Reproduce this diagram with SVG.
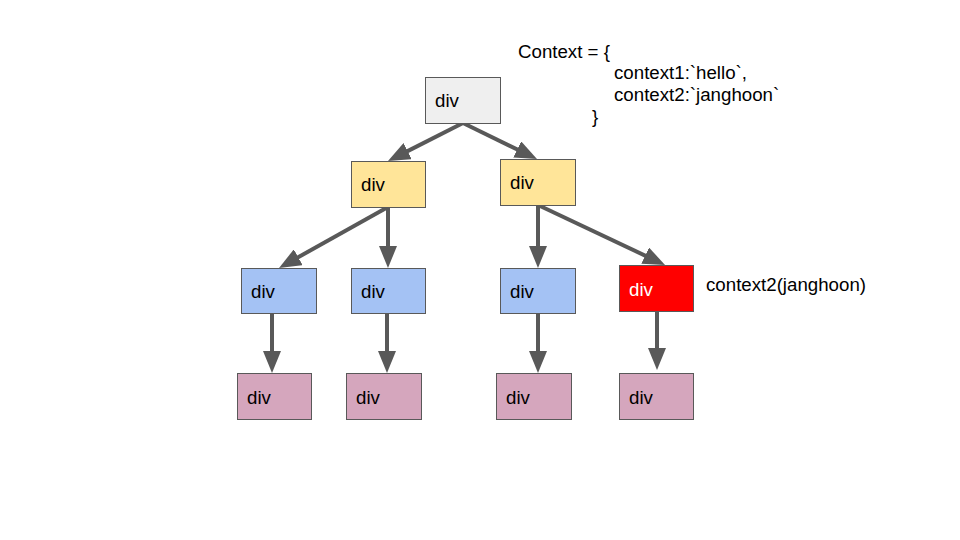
<svg xmlns="http://www.w3.org/2000/svg" width="960" height="540" viewBox="0 0 960 540">
  <style>
    .box { stroke: #595959; stroke-width: 1; }
    .root { fill: #efefef; }
    .yellow { fill: #ffe599; }
    .blue { fill: #a4c2f4; }
    .red { fill: #ff0000; }
    .pink { fill: #d5a6bd; }
    .lbl { font-family: "Liberation Sans", Arial, sans-serif; font-size: 18.7px; fill: #000000; }
    .white { fill: #ffffff; }
    .edge { stroke: #595959; stroke-width: 4; fill: none; marker-end: url(#arrow); }
  </style>
  <defs>
    <marker id="arrow" markerUnits="userSpaceOnUse" markerWidth="22" markerHeight="18" refX="10" refY="9" orient="auto">
      <path d="M0,0 L22,9 L0,18 z" fill="#595959"/>
    </marker>
  </defs>
  <rect width="960" height="540" fill="#ffffff"/>

  <g id="connectors">
    <line class="edge" x1="463" y1="123" x2="398.7" y2="155.6"/>
    <line class="edge" x1="463" y1="123" x2="526.2" y2="153.8"/>
    <line class="edge" x1="388" y1="207" x2="289.5" y2="262.1"/>
    <line class="edge" x1="388" y1="207" x2="388" y2="256"/>
    <line class="edge" x1="538" y1="205" x2="538" y2="256"/>
    <line class="edge" x1="538" y1="205" x2="654.2" y2="259.9"/>
    <line class="edge" x1="272" y1="313" x2="272" y2="361"/>
    <line class="edge" x1="387" y1="313" x2="387" y2="361"/>
    <line class="edge" x1="538" y1="313" x2="538" y2="361"/>
    <line class="edge" x1="657" y1="311" x2="657" y2="358"/>
  </g>

  <g id="root">
    <rect class="box root" x="425.5" y="77.5" width="75" height="46"/>
    <text class="lbl" x="435" y="107">div</text>
  </g>
  <g id="yellow-left">
    <rect class="box yellow" x="351.5" y="161.5" width="74" height="46"/>
    <text class="lbl" x="361" y="191">div</text>
  </g>
  <g id="yellow-right">
    <rect class="box yellow" x="500.5" y="159.5" width="75" height="46"/>
    <text class="lbl" x="510" y="189">div</text>
  </g>
  <g id="blue-1">
    <rect class="box blue" x="241.5" y="268.5" width="75" height="45"/>
    <text class="lbl" x="251" y="298">div</text>
  </g>
  <g id="blue-2">
    <rect class="box blue" x="351.5" y="268.5" width="74" height="45"/>
    <text class="lbl" x="361" y="298">div</text>
  </g>
  <g id="blue-3">
    <rect class="box blue" x="500.5" y="268.5" width="75" height="45"/>
    <text class="lbl" x="510" y="298">div</text>
  </g>
  <g id="red">
    <rect class="box red" x="619.5" y="265.5" width="74" height="46"/>
    <text class="lbl white" x="629" y="295.5">div</text>
  </g>
  <g id="pink-1">
    <rect class="box pink" x="237.5" y="373.5" width="74" height="46"/>
    <text class="lbl" x="247" y="403.5">div</text>
  </g>
  <g id="pink-2">
    <rect class="box pink" x="346.5" y="373.5" width="75" height="46"/>
    <text class="lbl" x="356" y="403.5">div</text>
  </g>
  <g id="pink-3">
    <rect class="box pink" x="496.5" y="373.5" width="75" height="46"/>
    <text class="lbl" x="506" y="403.5">div</text>
  </g>
  <g id="pink-4">
    <rect class="box pink" x="619.5" y="373.5" width="74" height="46"/>
    <text class="lbl" x="629" y="403.5">div</text>
  </g>

  <g id="context-label">
    <text class="lbl" x="518" y="57.5">Context = {</text>
    <text class="lbl" x="614" y="79.3">context1:`hello`,</text>
    <text class="lbl" x="614" y="101">context2:`janghoon`</text>
    <text class="lbl" x="592" y="122.7">}</text>
  </g>
  <g id="context2-label">
    <text class="lbl" x="706" y="291">context2(janghoon)</text>
  </g>
</svg>
